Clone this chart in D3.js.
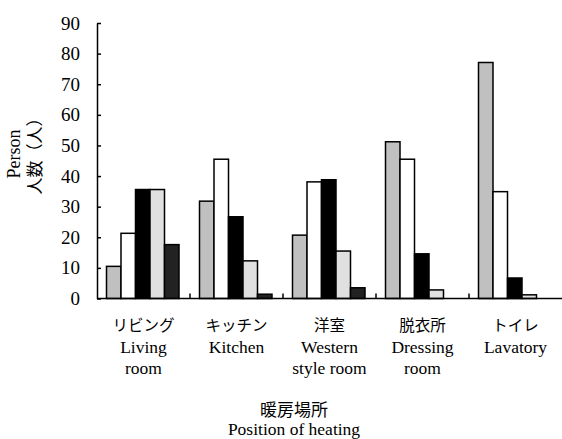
<!DOCTYPE html>
<html>
<head>
<meta charset="utf-8">
<script src="https://cdn.jsdelivr.net/npm/d3@7"></script>
<style>
  body{ margin:0; background:#fff; }
</style>
</head>
<body>
<div id="chart"></div>
<script>
// categories (Japanese + English lines)
const catJa = ["リビング", "キッチン", "洋室", "脱衣所", "トイレ"];
const catEn = [["Living", "room"], ["Kitchen"], ["Western", "style room"], ["Dressing", "room"], ["Lavatory"]];

// series values
const s1 = [10.5, 31.8, 20.7, 51.2, 77.1];
const s2 = [21.3, 45.5, 38.1, 45.5, 34.9];
const s3 = [35.6, 26.7, 38.8, 14.6, 6.7];
const s4 = [35.6, 12.3, 15.5, 2.8, 1.2];
const s5 = [17.6, 1.4, 3.5, 0, 0];
const seriesFill = ["#c0c0c0", "#ffffff", "#000000", "#e0e0e0", "#222222"];

const yTicks = [0, 10, 20, 30, 40, 50, 60, 70, 80, 90];

var SERIF = "'Liberation Serif', 'Times New Roman', serif";
var JP = "'Noto Sans CJK JP', sans-serif";

var width = 562, height = 439;
var plotL = 97, plotR = 562, plotT = 23, plotB = 298.5;

var svg = d3.select("#chart").append("svg")
    .attr("width", width)
    .attr("height", height);

var x = d3.scaleBand()
    .domain(d3.range(catJa.length))
    .range([plotL, plotR]);

var series = [s1, s2, s3, s4, s5];
var xs = d3.scaleBand()
    .domain(d3.range(series.length))
    .range([9.5, 82]);

var y = d3.scaleLinear()
    .domain([0, 90])
    .range([plotB, plotT]);

//bars
series.forEach(function(vals, si){
  svg.append("g").selectAll("rect")
    .data(vals.map((v, i) => [i, v]).filter(d => d[1] > 0))
    .enter()
    .append("rect")
    .attr("x", d => x(d[0]) + xs(si))
    .attr("width", xs.bandwidth())
    .attr("y", d => y(d[1]))
    .attr("height", d => y(0) - y(d[1]))
    .attr("fill", seriesFill[si])
    .attr("stroke", "#000")
    .attr("stroke-width", 1.5);
});

//y axis, ticks pointing in
var yAxis = svg.append("g")
    .attr("transform", "translate(" + plotL + ",0)")
    .call(d3.axisLeft(y).tickValues(yTicks).tickSizeInner(-4).tickSizeOuter(0).tickPadding(17));
yAxis.attr("font-family", SERIF).attr("font-size", 19);
yAxis.select(".domain").attr("stroke-width", 1.5);
yAxis.selectAll(".tick line").attr("stroke-width", 1.5);
yAxis.selectAll("text").attr("fill", "#000");

//x axis line
svg.append("line")
    .attr("x1", plotL).attr("x2", plotR)
    .attr("y1", y(0)).attr("y2", y(0))
    .attr("stroke", "#000").attr("stroke-width", 1.5);

//small ticks between the groups
svg.append("g").selectAll("line")
    .data(d3.range(1, catJa.length))
    .enter()
    .append("line")
    .attr("x1", d => x(d)).attr("x2", d => x(d))
    .attr("y1", y(0)).attr("y2", y(0) - 5)
    .attr("stroke", "#000").attr("stroke-width", 1.5);

//category labels
var lab = svg.append("g").selectAll("g")
    .data(d3.range(catJa.length))
    .enter()
    .append("g")
    .attr("transform", d => "translate(" + (x(d) + x.bandwidth() / 2) + ",0)");

lab.append("text")
    .attr("font-family", JP)
    .attr("text-anchor", "middle")
    .attr("y", 331)
    .attr("font-size", 15.5)
    .text(d => catJa[d]);

lab.each(function(d){
  d3.select(this).selectAll("text.en")
    .data(catEn[d])
    .enter()
    .append("text")
    .attr("class", "en")
    .attr("font-family", SERIF)
    .attr("text-anchor", "middle")
    .attr("font-size", 17.5)
    .attr("y", (t, j) => 353 + j * 21)
    .text(t => t);
});

//axis titles
svg.append("text")
    .attr("font-family", JP)
    .attr("text-anchor", "middle")
    .attr("x", 294).attr("y", 416)
    .attr("font-size", 17)
    .text("暖房場所");

svg.append("text")
    .attr("font-family", SERIF)
    .attr("text-anchor", "middle")
    .attr("x", 294).attr("y", 435)
    .attr("font-size", 17.5)
    .text("Position of heating");

var yt = svg.append("g")
    .attr("transform", "translate(0,152) rotate(-90)");
yt.append("text")
    .attr("font-family", SERIF)
    .attr("text-anchor", "middle")
    .attr("x", -2).attr("y", 20)
    .attr("font-size", 18)
    .text("Person");
yt.append("text")
    .attr("font-family", JP)
    .attr("text-anchor", "middle")
    .attr("x", 0).attr("y", 41)
    .attr("font-size", 17)
    .text("人数（人）");
</script>
</body>
</html>
